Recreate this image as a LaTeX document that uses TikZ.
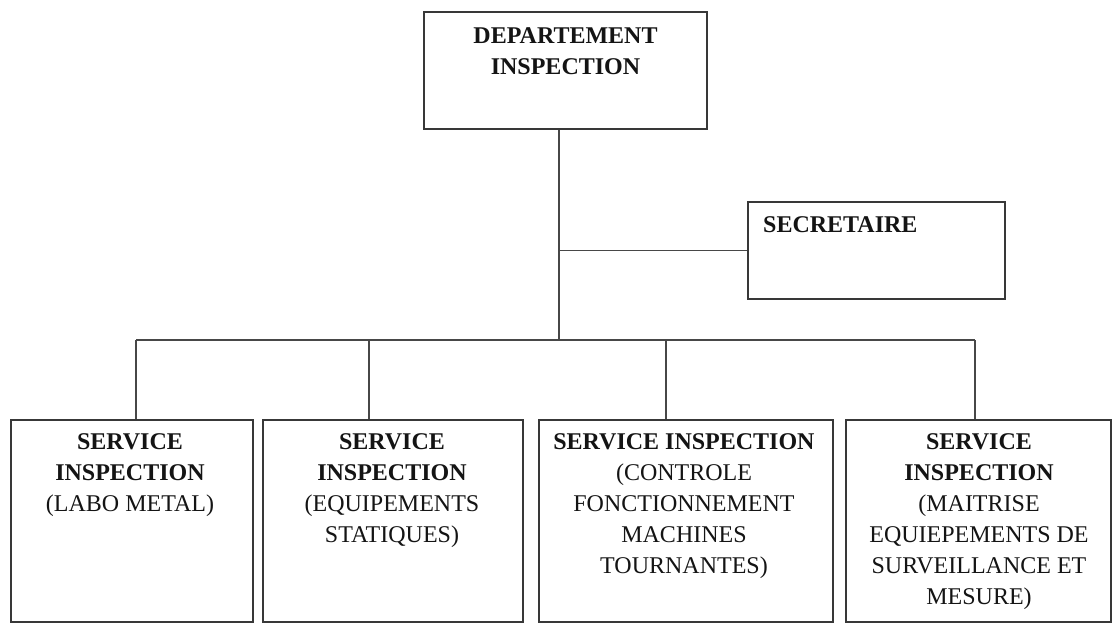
\documentclass[tikz,border=0pt]{standalone}
\usepackage{fontspec}
\setmainfont{Liberation Serif}
\begin{document}
\begin{tikzpicture}[x=1pt,y=-1pt,
  box/.style={draw=black!78,line width=1.6pt,inner sep=0pt,fill=white},
  txt/.style={inner sep=0pt,align=center,text=black!92,font={\fontsize{24}{31}\selectfont}},
  link/.style={draw=black!72,line width=1.6pt}]
\useasboundingbox[fill=white] (0,0) rectangle (1112,631);
% boxes
\node[box,minimum width=283pt,minimum height=117pt] (dep) at (565.5,70.5) {};
\node[box,minimum width=257pt,minimum height=97pt] (sec) at (876.5,250.5) {};
\node[box,minimum width=242pt,minimum height=202pt] (s1) at (132,521) {};
\node[box,minimum width=260pt,minimum height=202pt] (s2) at (393,521) {};
\node[box,minimum width=294pt,minimum height=202pt] (s3) at (686,521) {};
\node[box,minimum width=265pt,minimum height=202pt] (s4) at (978.5,521) {};
% texts
\node[txt,anchor=north] (tdep) at (565.5,27) {\textbf{DEPARTEMENT}\\\textbf{INSPECTION}};
\node[txt,anchor=north west] (tsec) at (763,216) {\textbf{SECRETAIRE}};
\node[txt,anchor=north] (ts1) at (130,433) {\textbf{SERVICE}\\\textbf{INSPECTION}\\(LABO METAL)};
\node[txt,anchor=north] (ts2) at (392,433) {\textbf{SERVICE}\\\textbf{INSPECTION}\\(EQUIPEMENTS\\STATIQUES)};
\node[txt,anchor=north] (ts3) at (684,433) {\textbf{SERVICE INSPECTION}\\(CONTROLE\\FONCTIONNEMENT\\MACHINES\\TOURNANTES)};
\node[txt,anchor=north] (ts4) at (979,433) {\textbf{SERVICE}\\\textbf{INSPECTION}\\(MAITRISE\\EQUIEPEMENTS DE\\SURVEILLANCE ET\\MESURE)};
% connectors
\coordinate (bus) at (559,340);
\coordinate (b1) at (136,340);
\coordinate (b2) at (369,340);
\coordinate (b3) at (666,340);
\coordinate (b4) at (975,340);
\draw[link] (dep.south -| bus) -- (bus);
\draw[link] (sec.west -| bus) -- (sec.west);
\draw[link] (b1) -- (b4);
\draw[link] (b1) -- (b1 |- s1.north);
\draw[link] (b2) -- (b2 |- s2.north);
\draw[link] (b3) -- (b3 |- s3.north);
\draw[link] (b4) -- (b4 |- s4.north);
\end{tikzpicture}
\end{document}
